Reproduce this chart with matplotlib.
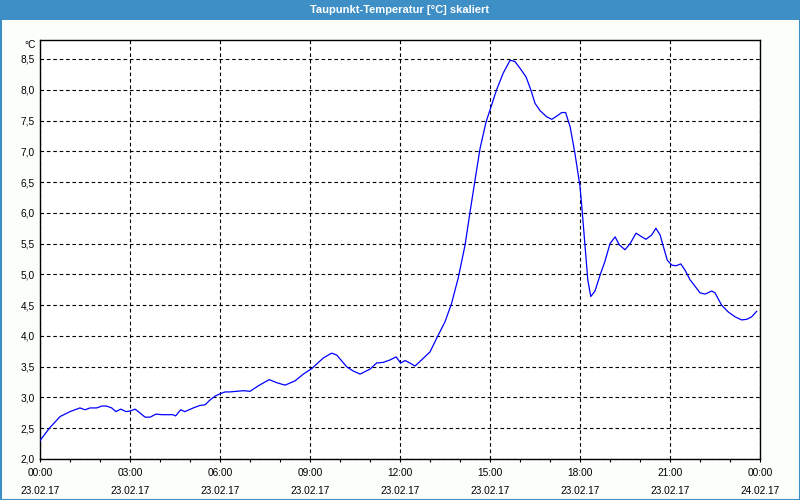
import matplotlib
matplotlib.use("Agg")
import matplotlib.pyplot as plt
from matplotlib.ticker import MultipleLocator, FuncFormatter, FixedLocator
from matplotlib.patches import Rectangle

# Data: hours since 23.02.17 00:00, dew point temperature [°C]
hours = [0.0, 0.33, 0.67, 1.0, 1.33, 1.5, 1.67, 1.89, 2.06, 2.22, 2.39, 2.53, 2.69, 2.87,
         3.0, 3.17, 3.33, 3.5, 3.67, 3.87, 4.06, 4.43, 4.52, 4.69, 4.83, 5.11, 5.33, 5.5,
         5.67, 5.83, 6.0, 6.17, 6.33, 6.78, 7.0, 7.28, 7.64, 7.89, 8.17, 8.5, 8.78, 9.06,
         9.44, 9.72, 9.89, 10.22, 10.44, 10.67, 11.0, 11.22, 11.44, 11.67, 11.87, 12.02,
         12.17, 12.33, 12.5, 12.72, 13.0, 13.22, 13.5, 13.72, 13.94, 14.17, 14.33, 14.5,
         14.67, 14.87, 15.02, 15.22, 15.44, 15.67, 15.83, 16.0, 16.2, 16.36, 16.5, 16.67,
         16.89, 17.06, 17.22, 17.39, 17.52, 17.67, 17.83, 18.0, 18.06, 18.17, 18.26, 18.36,
         18.5, 18.67, 18.83, 19.0, 19.17, 19.31, 19.5, 19.67, 19.87, 20.06, 20.2, 20.39,
         20.53, 20.67, 20.78, 20.91, 21.06, 21.2, 21.36, 21.5, 21.67, 21.83, 22.0, 22.17,
         22.39, 22.5, 22.72, 22.94, 23.17, 23.39, 23.56, 23.72, 23.89]
dewpoint = [2.30, 2.51, 2.69, 2.77, 2.83, 2.80, 2.83, 2.83, 2.86, 2.86, 2.83, 2.77, 2.81, 2.77,
            2.78, 2.81, 2.75, 2.68, 2.68, 2.73, 2.72, 2.72, 2.70, 2.80, 2.77, 2.83, 2.87, 2.88,
            2.96, 3.02, 3.06, 3.09, 3.09, 3.11, 3.10, 3.19, 3.29, 3.24, 3.20, 3.27, 3.38, 3.47,
            3.64, 3.72, 3.69, 3.50, 3.43, 3.38, 3.46, 3.56, 3.57, 3.61, 3.66, 3.56,
            3.60, 3.56, 3.51, 3.61, 3.74, 3.96, 4.23, 4.53, 4.94, 5.48, 6.00, 6.53,
            7.05, 7.48, 7.70, 8.00, 8.27, 8.48, 8.46, 8.35, 8.21, 8.00, 7.78, 7.66,
            7.56, 7.52, 7.57, 7.63, 7.63, 7.40, 6.97, 6.43, 6.10, 5.45, 4.91, 4.64,
            4.73, 4.99, 5.21, 5.50, 5.61, 5.48, 5.40, 5.50, 5.67, 5.61, 5.57, 5.64,
            5.75, 5.64, 5.45, 5.23, 5.15, 5.14, 5.17, 5.07, 4.91, 4.81, 4.70, 4.68,
            4.73, 4.70, 4.50, 4.39, 4.31, 4.26, 4.27, 4.31, 4.40]

tick_hours = [0, 3, 6, 9, 12, 15, 18, 21, 24]
tick_labels = ["00:00\n23.02.17", "03:00\n23.02.17", "06:00\n23.02.17", "09:00\n23.02.17",
               "12:00\n23.02.17", "15:00\n23.02.17", "18:00\n23.02.17", "21:00\n23.02.17",
               "00:00\n24.02.17"]
title = "Taupunkt-Temperatur [°C] skaliert"
unit = "°C"

plt.rcParams['font.family'] = ['Liberation Sans', 'DejaVu Sans']
plt.rcParams['lines.scale_dashes'] = False

fig = plt.figure(figsize=(8, 5), dpi=100, facecolor="#fcfefc")

# title bar
fig.patches.append(Rectangle((0, 1 - 20/500), 1, 20/500, transform=fig.transFigure,
                             facecolor="#3d8fc6", edgecolor="none", zorder=0))
# blue frame
fig.patches.append(Rectangle((0.5/800, 0.5/500), 1 - 1/800, 1 - 1/500, transform=fig.transFigure,
                             facecolor="none", edgecolor="#3d8fc6", linewidth=1.5, zorder=5))
fig.text(0.5, 1 - 10/500, title, color="white", fontweight="bold", fontsize=8,
         ha="center", va="center")

ax = fig.add_axes([40/800, 1 - 459/500, 720/800, 419/500])
ax.set_facecolor("white")
ax.plot(hours, dewpoint, color="#0000ff", linewidth=0.9, zorder=3)

ax.set_xlim(0, 24)
ax.set_ylim(2.0, 2.0 + 419/61.54)

ax.yaxis.set_major_locator(MultipleLocator(0.5))
ax.yaxis.set_major_formatter(FuncFormatter(lambda v, p: f"{v:.1f}".replace(".", ",")))
ax.xaxis.set_major_locator(FixedLocator(tick_hours))
ax.set_xticklabels(tick_labels, linespacing=2.0)
ax.xaxis.set_minor_locator(MultipleLocator(1))

ax.tick_params(axis="y", length=0, pad=4, labelsize=7.3, colors="black")
ax.tick_params(axis="x", which="both", direction="out", length=2.5, width=0.8, pad=4, labelsize=7.3)

ax.grid(True, which="major", color="black", linestyle=(0, (2.6, 2.0)), linewidth=0.8)
for s in ax.spines.values():
    s.set_linewidth(1.0)
    s.set_color("black")

ax.text(-4/720, 1 - 5/419, unit, transform=ax.transAxes, ha="right", va="center", fontsize=7.3)

fig.savefig("out.png", dpi=100, facecolor=fig.get_facecolor())
